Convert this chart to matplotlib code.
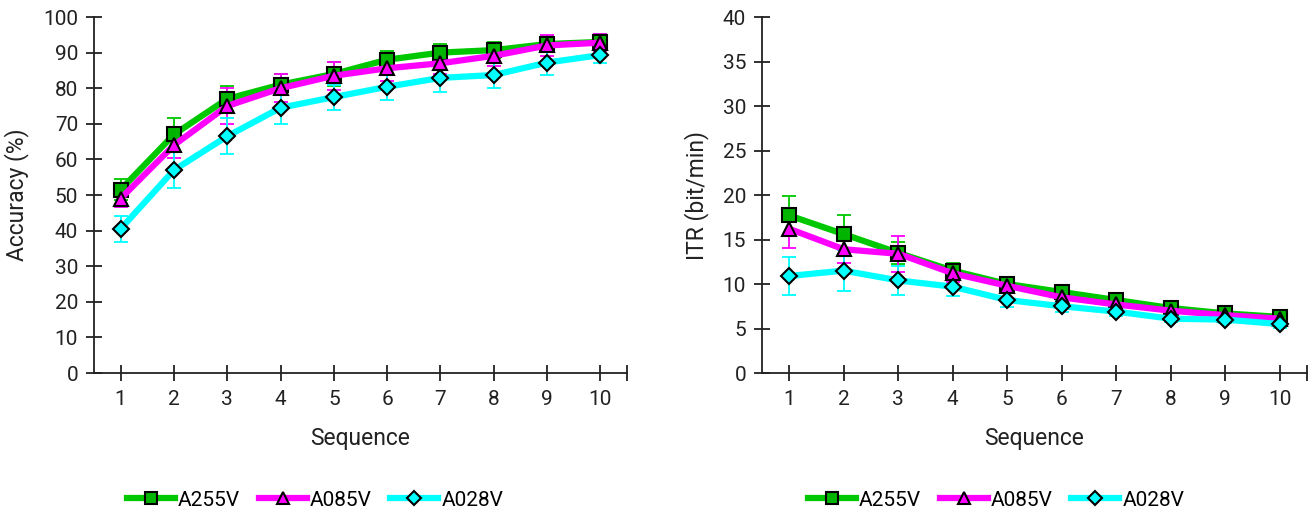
import matplotlib
matplotlib.use("Agg")
import matplotlib.pyplot as plt

plt.rcParams['font.family'] = ['Roboto', 'DejaVu Sans']

sequence = [1, 2, 3, 4, 5, 6, 7, 8, 9, 10]
series_names = ["A255V", "A085V", "A028V"]

acc_A255V = [51.5, 67.0, 77.0, 81.0, 84.0, 88.0, 90.0, 90.7, 92.4, 93.0]
acc_A085V = [49.0, 64.0, 75.0, 80.0, 83.5, 85.6, 87.0, 89.1, 92.0, 92.8]
acc_A028V = [40.5, 57.0, 66.5, 74.5, 77.5, 80.4, 82.9, 83.7, 87.2, 89.3]
acc_err_A255V = [3.0, 4.5, 3.5, 3.0, 3.5, 2.5, 2.5, 2.3, 2.3, 2.2]
acc_err_A085V = [2.5, 3.5, 5.0, 4.0, 4.0, 3.5, 3.0, 3.0, 2.9, 2.3]
acc_err_A028V = [3.7, 5.0, 5.0, 4.5, 3.5, 3.8, 4.0, 3.7, 3.5, 2.2]

itr_A255V = [17.7, 15.6, 13.5, 11.5, 10.0, 9.1, 8.2, 7.3, 6.7, 6.3]
itr_A085V = [16.2, 13.9, 13.4, 11.2, 9.8, 8.5, 7.7, 7.0, 6.5, 6.1]
itr_A028V = [10.9, 11.5, 10.4, 9.7, 8.2, 7.5, 6.9, 6.1, 6.0, 5.5]
itr_err_A255V = [2.2, 2.2, 1.2, 0.9, 0.8, 0.5, 0.5, 0.4, 0.4, 0.4]
itr_err_A085V = [2.1, 1.5, 2.0, 1.0, 0.8, 0.6, 0.5, 0.4, 0.4, 0.4]
itr_err_A028V = [2.1, 2.3, 1.6, 1.1, 0.8, 0.6, 0.5, 0.4, 0.4, 0.4]

line_colors = ["#00C800", "#FF00FF", "#00FFFF"]
face_colors = ["#00B400", "#FF00FF", "#00FFFF"]
markers = ["s", "^", "D"]
msizes = [10, 10, 8]

fig = plt.figure(figsize=(13.12, 5.11), dpi=100)
ax1 = fig.add_axes([94/1312, 138/511, 533/1312, 356/511])
ax2 = fig.add_axes([762/1312, 138/511, 545/1312, 356/511])

def draw(ax, ys, errs, ylim, yticks, ylabel):
    handles = []
    for i, (y, e) in enumerate(zip(ys, errs)):
        ax.errorbar(sequence, y, yerr=e, fmt='none', ecolor=line_colors[i],
                    elinewidth=1.3, capsize=5, capthick=1.3, zorder=2 + i)
        h, = ax.plot(sequence, y, color=line_colors[i], lw=4.5, marker=markers[i],
                     ms=msizes[i], mfc=face_colors[i], mec='black', mew=1.5,
                     zorder=5 + i, label=series_names[i])
        handles.append(h)
    ax.set_xlim(0.5, 10.5)
    ax.set_ylim(*ylim)
    ax.set_yticks(yticks)
    ax.set_xticks(sequence)
    ax.set_xticks([10.5], minor=True)
    for s in ['top', 'right']:
        ax.spines[s].set_visible(False)
    for s in ['left', 'bottom']:
        ax.spines[s].set_linewidth(1.3)
        ax.spines[s].set_color('#222222')
    ax.tick_params(which='both', direction='inout', length=11, width=1.3,
                   labelsize=15, color='#222222', labelcolor='#222222')
    ax.tick_params(axis='x', pad=7)
    ax.tick_params(axis='y', pad=6)
    ax.set_xlabel("Sequence", fontsize=16.5, labelpad=13, color='#222222')
    ax.set_ylabel(ylabel, fontsize=16.5, labelpad=10, color='#222222')
    return handles

h1 = draw(ax1, [acc_A255V, acc_A085V, acc_A028V],
          [acc_err_A255V, acc_err_A085V, acc_err_A028V],
          (0, 100), range(0, 101, 10), "Accuracy (%)")
h2 = draw(ax2, [itr_A255V, itr_A085V, itr_A028V],
          [itr_err_A255V, itr_err_A085V, itr_err_A028V],
          (0, 40), range(0, 41, 5), "ITR (bit/min)")

for hs, cx in [(h1, 315), (h2, 996)]:
    fig.legend(handles=hs, loc='center', bbox_to_anchor=(cx/1312, 11/511),
               ncol=3, frameon=False, fontsize=15, handlelength=2.3,
               handletextpad=0.15, columnspacing=0.9, markerscale=0.9)

fig.savefig("out.png", dpi=100)
